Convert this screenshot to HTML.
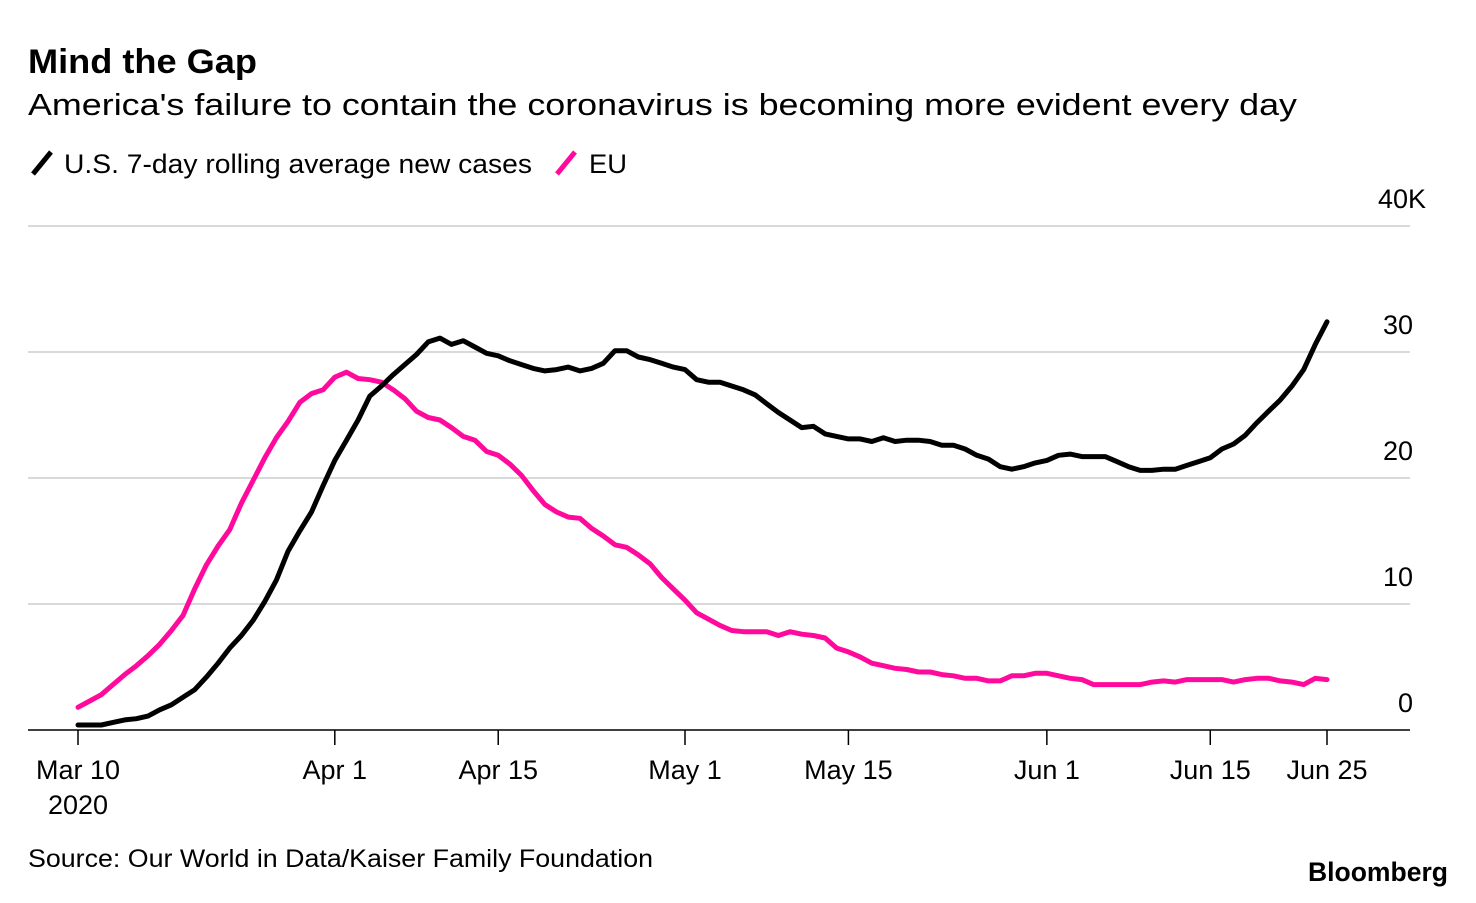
<!DOCTYPE html>
<html><head><meta charset="utf-8"><style>
body{margin:0;background:#fff;width:1476px;height:898px;overflow:hidden;font-family:"Liberation Sans",sans-serif;}
svg text{font-family:"Liberation Sans",sans-serif;}
</style></head><body>
<svg id="chart" width="1476" height="898">
<text x="28" y="73" font-size="34" font-weight="bold" fill="#000" textLength="229" lengthAdjust="spacingAndGlyphs">Mind the Gap</text>
<text x="28" y="115" font-size="31" fill="#000" textLength="1269" lengthAdjust="spacingAndGlyphs">America's failure to contain the coronavirus is becoming more evident every day</text>
<g>
<line x1="33" y1="174" x2="51" y2="152" stroke="#000" stroke-width="5"/>
<text x="64" y="173" font-size="27" textLength="468" lengthAdjust="spacingAndGlyphs">U.S. 7-day rolling average new cases</text>
<line x1="557" y1="174" x2="575" y2="152" stroke="#ff0a9c" stroke-width="5"/>
<text x="589" y="173" font-size="27" textLength="38" lengthAdjust="spacingAndGlyphs">EU</text>
</g>
<g id="grid"></g><g id="xaxis"></g><g id="series"></g>
<text x="28" y="867" font-size="25" textLength="625" lengthAdjust="spacingAndGlyphs">Source: Our World in Data/Kaiser Family Foundation</text>
<text x="1308" y="881" font-size="27" font-weight="bold" textLength="140" lengthAdjust="spacingAndGlyphs">Bloomberg</text>
</svg>
<script>
const yTicks=[0,10,20,30,40];
const yTickLabels=["0","10","20","30","40K"];
const xTickDays=[0,22,36,52,66,83,97,107];
const xTickLabels=["Mar 10","Apr 1","Apr 15","May 1","May 15","Jun 1","Jun 15","Jun 25"];
const usValues=[0.4,0.4,0.4,0.6,0.8,0.9,1.1,1.6,2.0,2.6,3.2,4.2,5.3,6.5,7.5,8.7,10.2,11.9,14.2,15.8,17.3,19.4,21.4,23,24.6,26.5,27.3,28.2,29.0,29.8,30.8,31.1,30.6,30.9,30.4,29.9,29.7,29.3,29.0,28.7,28.5,28.6,28.8,28.5,28.7,29.1,30.1,30.1,29.6,29.4,29.1,28.8,28.6,27.8,27.6,27.6,27.3,27.0,26.6,25.9,25.2,24.6,24.0,24.1,23.5,23.3,23.1,23.1,22.9,23.2,22.9,23.0,23.0,22.9,22.6,22.6,22.3,21.8,21.5,20.9,20.7,20.9,21.2,21.4,21.8,21.9,21.7,21.7,21.7,21.3,20.9,20.6,20.6,20.7,20.7,21.0,21.3,21.6,22.3,22.7,23.4,24.4,25.3,26.2,27.3,28.6,30.6,32.4];
const euValues=[1.8,2.3,2.8,3.6,4.4,5.1,5.9,6.8,7.9,9.1,11.2,13.1,14.6,15.9,18.0,19.8,21.6,23.2,24.5,26.0,26.7,27.0,28.0,28.4,27.9,27.8,27.6,27.0,26.3,25.3,24.8,24.6,24.0,23.3,23.0,22.1,21.8,21.1,20.2,19.0,17.9,17.3,16.9,16.8,16.0,15.4,14.7,14.5,13.9,13.2,12.1,11.2,10.3,9.3,8.8,8.3,7.9,7.8,7.8,7.8,7.5,7.8,7.6,7.5,7.3,6.5,6.2,5.8,5.3,5.1,4.9,4.8,4.6,4.6,4.4,4.3,4.1,4.1,3.9,3.9,4.3,4.3,4.5,4.5,4.3,4.1,4.0,3.6,3.6,3.6,3.6,3.6,3.8,3.9,3.8,4.0,4.0,4.0,4.0,3.8,4.0,4.1,4.1,3.9,3.8,3.6,4.1,4.0];
const NS="http://www.w3.org/2000/svg";
const x0=78,x1=1327,nDays=107;
function xs(d){return x0+(x1-x0)*d/nDays;}
function ys(v){return 730-v*12.6;}
function mk(tag,attrs,parent){const e=document.createElementNS(NS,tag);for(const k in attrs)e.setAttribute(k,attrs[k]);parent.appendChild(e);return e;}
const grid=document.getElementById('grid');
yTicks.forEach((t,i)=>{
 const l=mk('line',{x1:28,x2:1410,y1:ys(t),y2:ys(t),stroke:t===0?'#000':'#d9d9d9','stroke-width':t===0?1.5:2},grid);
 
 
 const last=i===yTicks.length-1;
 const tx=mk('text',{x:last?1378:1413,y:ys(t)-18,'font-size':27,'text-anchor':last?'start':'end'},grid);
 tx.textContent=yTickLabels[i];
 
 
});
const xa=document.getElementById('xaxis');
xTickDays.forEach((d,i)=>{
 const l=mk('line',{x1:xs(d),x2:xs(d),y1:730,y2:745,stroke:'#000','stroke-width':1.5},xa);
 
 
 const t=mk('text',{x:xs(d),y:779,'font-size':27,'text-anchor':'middle'},xa);
 t.textContent=xTickLabels[i];
 
 
});
const yr=mk('text',{x:xs(0),y:814,'font-size':27,'text-anchor':'middle'},xa);
yr.textContent='2020';


const sg=document.getElementById('series');
function line(vals,color,name){
 const p=mk('path',{d:vals.map((v,i)=>(i?'L':'M')+xs(i).toFixed(1)+','+ys(v).toFixed(1)).join(''),fill:'none',stroke:color,'stroke-width':5,'stroke-linejoin':'round','stroke-linecap':'round'},sg);
 
 
}
line(euValues,'#ff0a9c','eu-line');
line(usValues,'#000','us-line');
</script>
</body></html>
